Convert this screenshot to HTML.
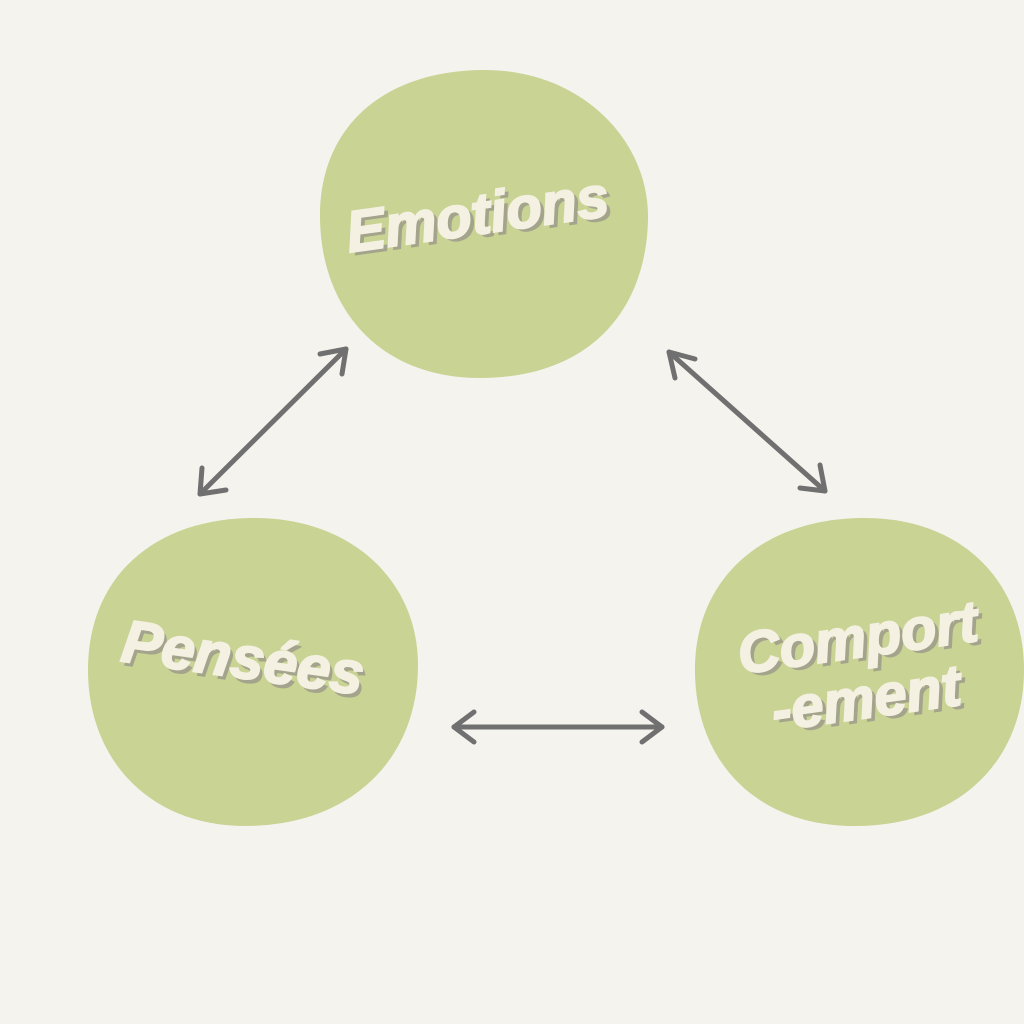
<!DOCTYPE html>
<html><head><meta charset="utf-8"><style>
html,body{margin:0;padding:0;background:#f5f3ee;}
.c{position:relative;width:1024px;height:1024px;overflow:hidden;background:#f5f3ee;}
.t{position:absolute;font-family:"Liberation Sans",sans-serif;font-weight:bold;font-style:italic;color:#f4f1e3;-webkit-text-stroke:2px #f4f1e3;text-shadow:4px 4px 0 #a4a48c;transform:rotate(-8deg);white-space:nowrap;text-align:center;line-height:1}
</style></head><body><div class="c">
<svg width="1024" height="1024" style="position:absolute;left:0;top:0">
<path d="M480,70 C580,68 650,140 648,220 C646,310 590,378 480,378 C380,378 322,310 320,220 C318,130 380,72 480,70Z" fill="#c9d393"/>
<path d="M250,518 C350,516 418,580 418,665 C418,760 350,826 245,826 C150,826 88,760 88,670 C88,580 150,520 250,518Z" fill="#c9d393"/>
<path d="M860,518 C960,516 1024,580 1024,670 C1024,760 960,826 855,826 C755,826 693,760 695,665 C697,580 760,520 860,518Z" fill="#c9d393"/>
<g stroke="#707070" stroke-width="5" fill="none" stroke-linecap="round" stroke-linejoin="round">
<line x1="346" y1="349" x2="200" y2="494"/>
<polyline points="320,354 346,349 342,374"/>
<polyline points="202,468 200,494 226,490"/>
<line x1="669" y1="352" x2="825" y2="491"/>
<polyline points="695,359 669,352 675,378"/>
<polyline points="820,465 825,491 800,488"/>
<line x1="454" y1="727" x2="662" y2="727"/>
<polyline points="474,712 454,727 474,742"/>
<polyline points="642,712 662,727 642,742"/>
</g>
</svg>
<div class="t" style="left:340px;top:186px;width:275px;font-size:58px;">Emotions</div>
<div class="t" style="left:108px;top:628px;width:270px;font-size:60px;transform:rotate(8deg)">Pensées</div>
<div class="t" style="left:722px;top:608px;width:280px;font-size:58px;line-height:1.05">Comport<br>-ement</div>
</div></body></html>
